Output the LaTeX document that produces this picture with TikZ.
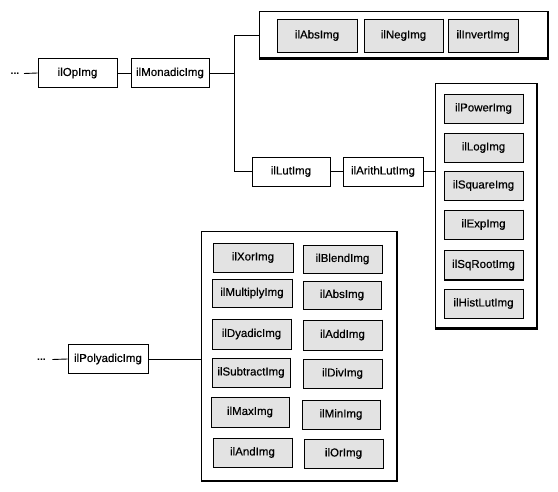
\documentclass[tikz,border=0pt]{standalone}
\usepackage{fontspec}
\setmainfont{Liberation Sans}
\newfontfamily\heavy{Liberation Sans}[FakeBold=0.4]
\begin{document}
\begin{tikzpicture}[x=1pt,y=-1pt,
  font=\heavy\fontsize{11.5}{13}\selectfont,
  cls/.style={draw=black, line width=0.9pt, fill=white, inner sep=0pt, minimum width=79pt, minimum height=29pt},
  sub/.style={draw=black, line width=0.9pt, fill=black!11, inner sep=0pt, minimum width=79pt, minimum height=29pt},
  grp/.style={draw=black, line width=1pt, fill=white, inner sep=0pt},
  conn/.style={line width=0.9pt},
  shade/.style={line width=1.4pt},
  dotsnode/.style={inner sep=0pt, font=\normalfont\bfseries\fontsize{10.5}{11}\selectfont}
]
\useasboundingbox (0,0) rectangle (558,492);
\fill[white] (0,0) rectangle (558,492);

% containers
\node[grp, minimum width=288pt, minimum height=46pt] (topgrp) at (403,35) {};
\node[grp, minimum width=101pt, minimum height=244pt] (rgtgrp) at (485.5,206) {};
\node[grp, minimum width=195pt, minimum height=248pt] (polygrp) at (298.5,356) {};

% top chain
\node[dotsnode, minimum width=12pt, outer xsep=3pt] (dotsA) at (15,73.5) {...};
\node[cls] (op) at (77.5,73) {ilOpImg};
\node[cls, minimum width=78pt] (mon) at (170,73) {ilMonadicImg};
\node[cls, minimum width=78pt] (lut) at (291,171.5) {ilLutImg};
\node[cls, minimum width=80pt] (arith) at (383,171.5) {ilArithLutImg};

% top group members
\node[sub, minimum width=80pt, minimum height=33pt] (absA) at (317,35.5) {ilAbsImg};
\node[sub, minimum height=33pt] (neg) at (403.5,35.5) {ilNegImg};
\node[sub, minimum width=70pt, minimum height=33pt] (inv) at (483,35.5) {ilInvertImg};

% right group members
\node[sub] (pow) at (483.5,108.5) {ilPowerImg};
\node[sub] (log) at (483.5,147.5) {ilLogImg};
\node[sub] (sq) at (483.5,185.5) {ilSquareImg};
\node[sub] (exp) at (483.5,224.5) {ilExpImg};
\node[sub] (sqr) at (483.5,265) {ilSqRootImg};
\node[sub] (hist) at (483.5,303.5) {ilHistLutImg};

% bottom chain
\node[dotsnode, minimum width=8pt, outer xsep=6.5pt] (dotsB) at (41.5,359.5) {...};
\node[cls, minimum width=80pt] (poly) at (108,359) {ilPolyadicImg};

% polyadic group members
\node[sub, minimum width=80pt] (xor) at (253,257.5) {ilXorImg};
\node[sub, minimum width=80pt, minimum height=28pt] (mul) at (252,293) {ilMultiplyImg};
\node[sub, minimum height=30pt] (dya) at (251.5,334) {ilDyadicImg};
\node[sub, minimum width=78pt] (subt) at (251,372.5) {ilSubtractImg};
\node[sub, minimum width=78pt, minimum height=30pt] (max) at (250,412) {ilMaxImg};
\node[sub] (and) at (252.5,452.5) {ilAndImg};
\node[sub, minimum height=28pt] (blend) at (342.5,259) {ilBlendImg};
\node[sub, minimum width=78pt, minimum height=28pt] (absB) at (342,295) {ilAbsImg};
\node[sub, minimum height=30pt] (add) at (342.5,335) {ilAddImg};
\node[sub] (div) at (342.5,373.5) {ilDivImg};
\node[sub, minimum width=78pt] (min) at (341,414.5) {ilMinImg};
\node[sub] (or) at (343.5,453.5) {ilOrImg};

% shadow edges (right and bottom)
\foreach \n in {topgrp,rgtgrp,polygrp}
  \draw[line width=1.5pt] ([xshift=0.3pt]\n.north east) -- ([xshift=0.3pt,yshift=-0.3pt]\n.south east) -- ([yshift=-0.3pt]\n.south west);
\foreach \n in {absA,neg,inv,pow,log,sq,exp,sqr,hist,xor,mul,dya,subt,max,and,blend,absB,add,div,min,or}
  \draw[shade] (\n.north east) -- (\n.south east) -- (\n.south west);

% connectors
\coordinate (branch) at (234,73);
\draw[conn] (dotsA.east) -- (op.west);
\draw[conn] (op.east) -- (mon.west);
\draw[conn] (mon.east) -- (branch);
\draw[conn] (branch) |- (topgrp.west);
\draw[conn] (branch) |- (lut.west);
\draw[conn] (lut.east) -- (arith.west);
\draw[conn] (arith.east) -- (arith.east -| rgtgrp.west);
\draw[conn] (dotsB.east) -- (poly.west);
\draw[conn] (poly.east) -- (poly.east -| polygrp.west);
\end{tikzpicture}
\end{document}
